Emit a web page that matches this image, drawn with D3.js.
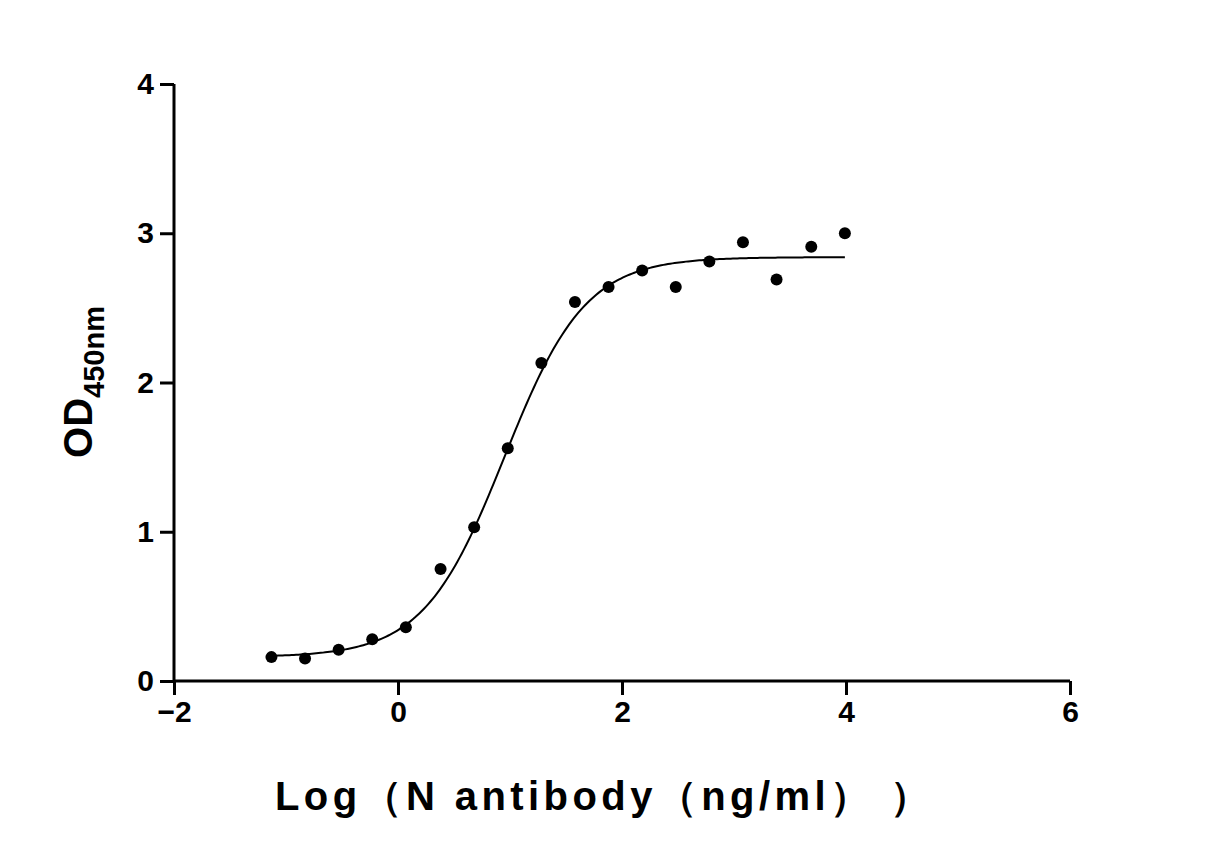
<!DOCTYPE html>
<html><head><meta charset="utf-8">
<script src="https://cdn.jsdelivr.net/npm/d3@7"></script>
<style>body{margin:0;background:#fff}text{font-family:"Liberation Sans",Arial,sans-serif;font-weight:bold}</style>
</head><body><svg id="chart" width="1206" height="863"></svg>
<script>
const logConc = [-1.13, -0.83, -0.53, -0.23, 0.07, 0.38, 0.68, 0.98, 1.28, 1.58, 1.88, 2.18, 2.48, 2.78, 3.08, 3.38, 3.69, 3.99];
const od450 = [0.16, 0.15, 0.21, 0.28, 0.36, 0.75, 1.03, 1.56, 2.13, 2.54, 2.64, 2.75, 2.64, 2.81, 2.94, 2.69, 2.91, 3.0];
const xTicks = [-2, 0, 2, 4, 6];
const yTicks = [0, 1, 2, 3, 4];
// 4PL fit parameters
const fitBottom = 0.16, fitTop = 2.84, fitLogEC50 = 0.95, fitHill = 1.2;

const svg = d3.select('#chart');
const x = d3.scaleLinear().domain([-2, 6]).range([174, 1070]);
const y = d3.scaleLinear().domain([0, 4]).range([681, 84]);

const xAxis = svg.append('g').attr('transform', 'translate(0,681)')
  .call(d3.axisBottom(x).tickValues(xTicks).tickSize(14).tickPadding(6).tickFormat(d3.format('d')));
const yAxis = svg.append('g').attr('transform', 'translate(174,0)')
  .call(d3.axisLeft(y).tickValues(yTicks).tickSize(14).tickPadding(6).tickFormat(d3.format('d')));
[xAxis, yAxis].forEach(a => {
  a.selectAll('path, line').style('stroke', '#000').style('stroke-width', '3px');
  a.selectAll('text').style('font-size', '30px').style('fill', '#000')
    .style('font-family', '"Liberation Sans",Arial,sans-serif').style('font-weight', 'bold');
});
xAxis.select('path').attr('d', 'M174,0H1070');
yAxis.select('path').attr('d', 'M0,681V84');

const fit = v => fitBottom + (fitTop - fitBottom) / (1 + Math.pow(10, (fitLogEC50 - v) * fitHill));
const curveX = d3.range(-1.13, 4.0001, 0.02);
svg.append('path').datum(curveX)
  .attr('d', d3.line().x(d => x(d)).y(d => y(fit(d))))
  .attr('fill', 'none').attr('stroke', '#000').attr('stroke-width', 2);

svg.append('g').selectAll('circle').data(logConc).enter().append('circle')
  .attr('cx', d => x(d)).attr('cy', (d, i) => y(od450[i])).attr('r', 6).attr('fill', '#000');

svg.append('text').attr('x', 275).attr('y', 810)
  .attr('textLength', 655).attr('lengthAdjust', 'spacing')
  .style('font-size', '40px').text('Log（N antibody（ng/ml）  ）');

const yl = svg.append('text').attr('transform', 'translate(92,382) rotate(-90)')
  .attr('text-anchor', 'middle').style('font-size', '40px');
yl.append('tspan').text('OD');
yl.append('tspan').style('font-size', '29px').attr('dy', 12).text('450nm');
</script></body></html>
